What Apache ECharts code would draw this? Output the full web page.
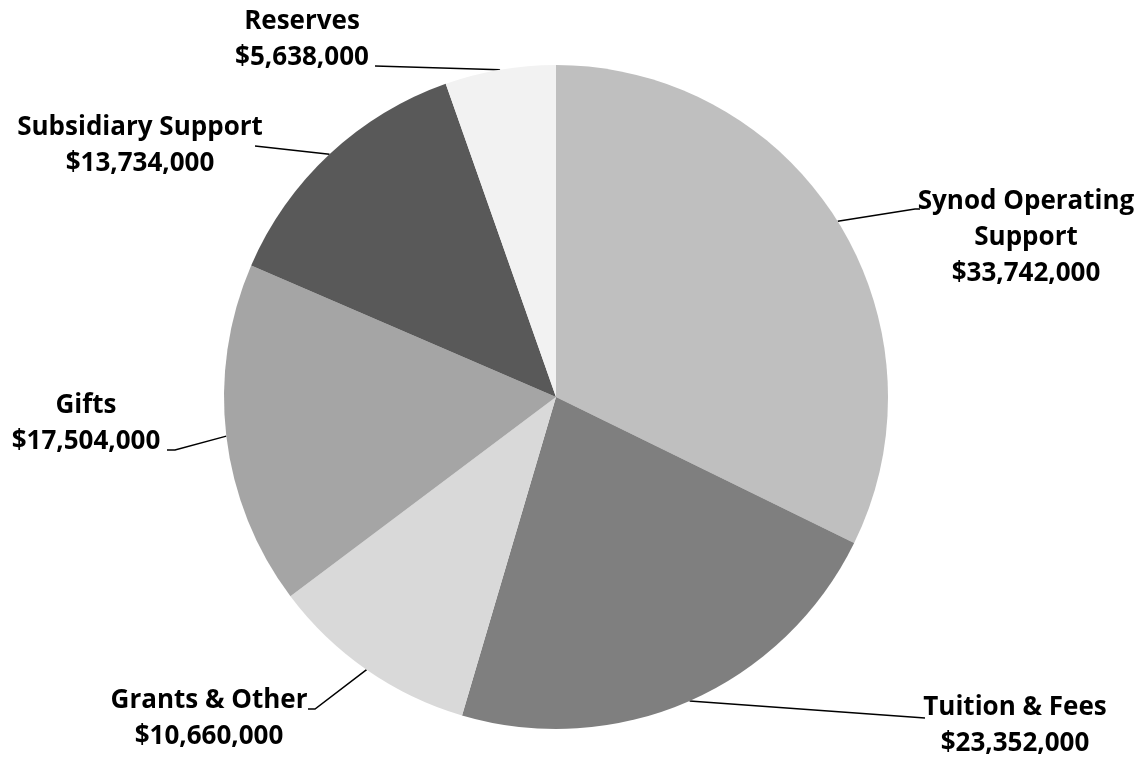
<!DOCTYPE html>
<html>
<head>
<meta charset="utf-8">
<script src="https://cdn.jsdelivr.net/npm/echarts@6/dist/echarts.min.js"></script>
<style>html,body{margin:0;padding:0;background:#fff;}#chart{width:1147px;height:761px;}</style>
</head>
<body>
<div id="chart"></div>
<script>
const categories = ['Synod Operating Support', 'Tuition & Fees', 'Grants & Other', 'Gifts', 'Subsidiary Support', 'Reserves'];
const values = [33742000, 23352000, 10660000, 17504000, 13734000, 5638000];
const colors = ['#bfbfbf', '#7f7f7f', '#d9d9d9', '#a5a5a5', '#595959', '#f2f2f2'];

// label layout (positions only)
const labelPos = {
  'Synod Operating Support': [1026, 238],
  'Tuition & Fees': [1015, 726],
  'Grants & Other': [209, 719],
  'Gifts': [86, 424],
  'Subsidiary Support': [140, 146],
  'Reserves': [302, 40]
};
// guide line elbow + end next to the label text
const guideEnds = {
  'Synod Operating Support': [[915, 209], [920, 209]],
  'Tuition & Fees': [[925, 718], [925, 718]],
  'Grants & Other': [[315, 709], [308, 709]],
  'Gifts': [[175, 450], [167, 450]],
  'Subsidiary Support': [[255, 146], [255, 146]],
  'Reserves': [[375, 66], [375, 66]]
};
const labelText = {
  'Synod Operating Support': 'Synod Operating\nSupport'
};

function fmt(v) { return '$' + v.toLocaleString('en-US'); }

const chart = echarts.init(document.getElementById('chart'));
chart.setOption({
  animation: false,
  backgroundColor: '#ffffff',
  series: [{
    type: 'pie',
    center: [556, 397],
    radius: 332,
    startAngle: 90,
    clockwise: true,
    data: categories.map((c, i) => ({ name: c, value: values[i], itemStyle: { color: colors[i] } })),
    itemStyle: { borderWidth: 0 },
    label: {
      show: true,
      color: '#000',
      fontFamily: 'Open Sans',
      fontWeight: 'bold',
      fontSize: 26,
      lineHeight: 36,
      align: 'center',
      formatter: p => (labelText[p.name] || p.name) + '\n' + fmt(p.value)
    },
    labelLine: { show: true, lineStyle: { color: '#000', width: 1.5 } },
    labelLayout: function (params) {
      const name = categories[params.dataIndex];
      const pos = labelPos[name];
      const out = { x: pos[0], y: pos[1], align: 'center', verticalAlign: 'middle' };
      if (params.labelLinePoints && params.labelLinePoints[0]) {
        out.labelLinePoints = [params.labelLinePoints[0]].concat(guideEnds[name]);
      }
      return out;
    },
    emphasis: { disabled: true }
  }]
});
</script>
</body>
</html>
